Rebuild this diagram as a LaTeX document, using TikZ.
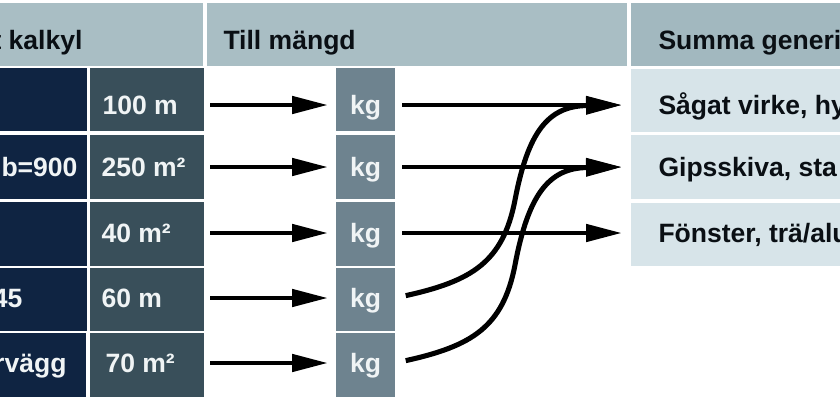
\documentclass[tikz,border=0pt]{standalone}
\usepackage{fontspec}
\setmainfont{Liberation Sans}
\usetikzlibrary{arrows.meta,fit}

\definecolor{hdrcol}{RGB}{169,190,196}
\definecolor{hdrdark}{RGB}{162,184,191}
\definecolor{navycol}{RGB}{15,36,66}
\definecolor{slatecol}{RGB}{57,79,90}
\definecolor{kgcol}{RGB}{110,131,143}
\definecolor{lightcol}{RGB}{215,228,233}
\definecolor{inkwhite}{RGB}{240,244,245}
\definecolor{inkdark}{RGB}{10,15,20}

\tikzset{every picture/.style={line width=0.75pt}}
\tikzset{
  cell/.style={inner sep=0pt, outer sep=0pt, draw=none},
  txt/.style={inner sep=0pt, font=\fontsize{19.9}{22}\selectfont\bfseries},
  arr/.style={line width=3.6pt, -{Triangle[length=27pt,width=12.75pt]}},
  swing/.style={line width=3.8pt, -{Triangle[length=27pt,width=12.75pt]}}
}

\begin{document}
\begin{tikzpicture}[x=0.75pt,y=0.75pt,yscale=-1,xscale=1]
\useasboundingbox (0,0) rectangle (840,415);
\clip (0,0) rectangle (840,415);

%Row levels
\coordinate (y1) at (0,105);
\coordinate (y2) at (0,167);
\coordinate (y3) at (0,233);
\coordinate (y4) at (0,298);
\coordinate (y5) at (0,363);

%Shape: Header cells
\node [cell, fill=hdrcol, fit={(-30,3) (203,66)}] (hdrA) {};
\node [cell, fill=hdrcol, fit={(207,3) (627,66)}] (hdrB) {};
\node [cell, fill=hdrdark, fit={(631,3) (870,66)}] (hdrC) {};

%Shape: Calculation column
\node [cell, fill=navycol, fit={(-30,68) (87,131)}] (calc1) {};
\node [cell, fill=navycol, fit={(-30,135) (87,199)}] (calc2) {};
\node [cell, fill=navycol, fit={(-30,202) (87,266)}] (calc3) {};
\node [cell, fill=navycol, fit={(-30,268) (87,331)}] (calc4) {};
\node [cell, fill=navycol, fit={(-30,333) (86,397)}] (calc5) {};

%Shape: Quantity column
\node [cell, fill=slatecol, fit={(90,68) (204,131)}] (qty1) {};
\node [cell, fill=slatecol, fit={(90,135) (204,199)}] (qty2) {};
\node [cell, fill=slatecol, fit={(90,202) (204,266)}] (qty3) {};
\node [cell, fill=slatecol, fit={(90,268) (204,331)}] (qty4) {};
\node [cell, fill=slatecol, fit={(90,333) (204,397)}] (qty5) {};

%Shape: kg boxes
\node [cell, fill=kgcol, fit={(336,68) (395,131)}] (kg1) {};
\node [cell, fill=kgcol, fit={(336,135) (395,199)}] (kg2) {};
\node [cell, fill=kgcol, fit={(336,202) (395,266)}] (kg3) {};
\node [cell, fill=kgcol, fit={(336,268) (395,331)}] (kg4) {};
\node [cell, fill=kgcol, fit={(336,333) (395,397)}] (kg5) {};

%Shape: Generic sums
\node [cell, fill=lightcol, fit={(631,69) (870,132)}] (sum1) {};
\node [cell, fill=lightcol, fit={(631,135) (870,199)}] (sum2) {};
\node [cell, fill=lightcol, fit={(631,203) (870,266)}] (sum3) {};

%Straight Lines
\draw [arr, shorten <=4.5pt, shorten >=6pt] (qty1.east |- y1) -- (kg1.west |- y1);
\draw [arr, shorten <=4.5pt, shorten >=6pt] (qty2.east |- y2) -- (kg2.west |- y2);
\draw [arr, shorten <=4.5pt, shorten >=6pt] (qty3.east |- y3) -- (kg3.west |- y3);
\draw [arr, shorten <=4.5pt, shorten >=6pt] (qty4.east |- y4) -- (kg4.west |- y4);
\draw [arr, shorten <=4.5pt, shorten >=6pt] (qty5.east |- y5) -- (kg5.west |- y5);
%Straight Lines
\draw [arr, shorten <=5.25pt, shorten >=6.75pt] (kg1.east |- y1) -- (sum1.west |- y1);
\draw [arr, shorten <=5.25pt, shorten >=6.75pt] (kg2.east |- y2) -- (sum2.west |- y2);
\draw [arr, shorten <=5.25pt, shorten >=6.75pt] (kg3.east |- y3) -- (sum3.west |- y3);
%Curve Lines
\draw [swing, shorten <=8.25pt, shorten >=6.75pt] (kg4.east |- y4) .. controls (472,281) and (503,262) .. (515,200) .. controls (528,132) and (548,106) .. (sum1.west |- y1);
%Curve Lines
\draw [swing, shorten <=8.25pt, shorten >=6.75pt] (kg5.east |- y5) .. controls (472,346) and (503,327) .. (515,265) .. controls (528,196) and (548,168) .. (sum2.west |- y2);

% Text Node
\node [txt, text=inkdark, anchor=base east] (hdrAtxt) at (83,49.5) {t kalkyl};
% Text Node
\node [txt, text=inkdark, anchor=base west] (hdrBtxt) at (223,49.5) {Till mängd};
% Text Node
\node [txt, text=inkdark, anchor=base west] (hdrCtxt) at (658,49.5) {Summa generi};
% Text Node
\node [txt, text=inkwhite, anchor=base east] (calc2txt) at (78,176) {b=900};
% Text Node
\node [txt, text=inkwhite, anchor=base east] (calc4txt) at (23,307) {45};
% Text Node
\node [txt, text=inkwhite, anchor=base east] (calc5txt) at (67,372) {rvägg};
% Text Node
\node [txt, text=inkwhite, anchor=base west] (qty1txt) at (102,114) {100 m};
% Text Node
\node [txt, text=inkwhite, anchor=base west] (qty2txt) at (101,176) {250 m²};
% Text Node
\node [txt, text=inkwhite, anchor=base west] (qty3txt) at (101,242) {40 m²};
% Text Node
\node [txt, text=inkwhite, anchor=base west] (qty4txt) at (101,307) {60 m};
% Text Node
\node [txt, text=inkwhite, anchor=base west] (qty5txt) at (105,372) {70 m²};
% Text Node
\node [txt, text=inkwhite, anchor=base] (kg1txt) at (kg1 |- 0,114) {kg};
\node [txt, text=inkwhite, anchor=base] (kg2txt) at (kg2 |- 0,176) {kg};
\node [txt, text=inkwhite, anchor=base] (kg3txt) at (kg3 |- 0,242) {kg};
\node [txt, text=inkwhite, anchor=base] (kg4txt) at (kg4 |- 0,307) {kg};
\node [txt, text=inkwhite, anchor=base] (kg5txt) at (kg5 |- 0,372) {kg};
% Text Node
\node [txt, text=inkdark, anchor=base west] (sum1txt) at (658,114) {Sågat virke, hy};
% Text Node
\node [txt, text=inkdark, anchor=base west] (sum2txt) at (658,176) {Gipsskiva, sta};
% Text Node
\node [txt, text=inkdark, anchor=base west] (sum3txt) at (658,242) {Fönster, trä/alu};

\end{tikzpicture}
\end{document}
